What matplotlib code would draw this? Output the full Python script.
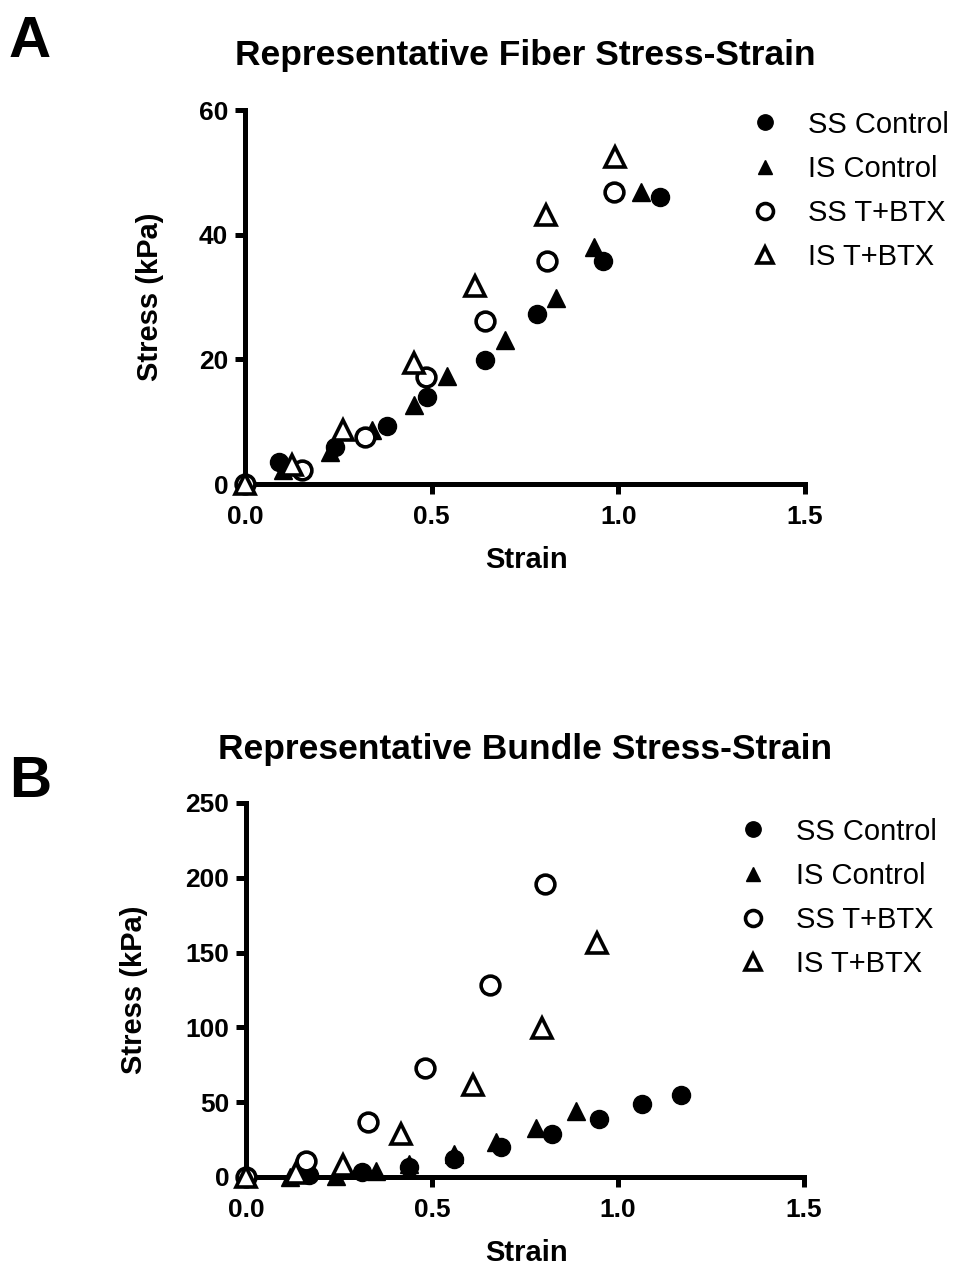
import matplotlib
matplotlib.use("Agg")
import matplotlib.pyplot as plt

plt.rcParams['font.family'] = ['Liberation Sans', 'DejaVu Sans']

# ---------------- panel A: fiber ----------------
fib_ss_ctrl_x = [0.0, 0.090, 0.242, 0.381, 0.487, 0.644, 0.782, 0.958, 1.112]
fib_ss_ctrl_y = [0.0, 3.6, 6.0, 9.3, 13.9, 19.9, 27.2, 35.7, 46.0]
fib_is_ctrl_x = [0.0, 0.103, 0.229, 0.341, 0.453, 0.540, 0.697, 0.834, 0.935, 1.060]
fib_is_ctrl_y = [0.0, 2.3, 5.2, 8.7, 12.7, 17.4, 23.1, 29.8, 38.0, 46.9]
fib_ss_btx_x = [0.0, 0.152, 0.321, 0.484, 0.644, 0.810, 0.988]
fib_ss_btx_y = [0.0, 2.3, 7.6, 17.1, 26.1, 35.8, 46.9]
fib_is_btx_x = [0.0, 0.126, 0.262, 0.453, 0.617, 0.805, 0.991]
fib_is_btx_y = [0.0, 3.1, 8.7, 19.4, 31.7, 43.2, 52.5]

# ---------------- panel B: bundle ----------------
bun_ss_ctrl_x = [0.0, 0.170, 0.312, 0.439, 0.558, 0.686, 0.823, 0.949, 1.065, 1.170]
bun_ss_ctrl_y = [0.0, 1.1, 3.3, 6.7, 12.3, 20.1, 29.0, 39.1, 48.7, 54.7]
bun_is_ctrl_x = [0.0, 0.117, 0.242, 0.350, 0.439, 0.558, 0.673, 0.780, 0.888]
bun_is_ctrl_y = [0.0, 0.0, 0.5, 4.0, 9.0, 15.6, 23.4, 33.0, 44.2]
bun_ss_btx_x = [0.0, 0.160, 0.327, 0.482, 0.655, 0.805]
bun_ss_btx_y = [0.0, 10.7, 36.8, 73.0, 128.3, 195.8]
bun_is_btx_x = [0.0, 0.135, 0.262, 0.417, 0.610, 0.796, 0.943]
bun_is_btx_y = [0.0, 3.0, 7.8, 29.0, 61.4, 99.3, 156.7]

labels = ["SS Control", "IS Control", "SS T+BTX", "IS T+BTX"]
xticks = [0.0, 0.5, 1.0, 1.5]
xticklabels = ["0.0", "0.5", "1.0", "1.5"]

W, H = 959, 1268
fig = plt.figure(figsize=(W / 100, H / 100), dpi=100)


def style_axes(ax, ymax, ystep):
    for s in ["top", "right"]:
        ax.spines[s].set_visible(False)
    for s in ["left", "bottom"]:
        ax.spines[s].set_linewidth(3.6)
    ax.set_xlim(0, 1.5)
    ax.set_ylim(0, ymax)
    ax.set_xticks(xticks)
    ax.set_xticklabels(xticklabels)
    ax.set_yticks(range(0, ymax + 1, ystep))
    ax.tick_params(direction="out", length=7, width=3.6, labelsize=19, pad=5)
    ax.tick_params(axis="x", pad=8)
    for lab in ax.get_xticklabels() + ax.get_yticklabels():
        lab.set_fontweight("bold")


def draw(ax, data):
    styles = [
        dict(marker="o", ms=13, mfc="black", mec="black", mew=1),
        dict(marker="^", ms=12.5, mfc="black", mec="black", mew=1),
        dict(marker="o", ms=13.5, mfc="white", mec="black", mew=2.6),
        dict(marker="^", ms=14, mfc="white", mec="black", mew=2.6),
    ]
    for (x, y), lab, st in zip(data, labels, styles):
        ax.plot(x, y, linestyle="none", label=lab, clip_on=False, zorder=3, **st)


def add_legend(ax, x0, y0):
    ax.legend(loc="upper left", bbox_to_anchor=(x0 / W, 1 - y0 / H),
              bbox_transform=fig.transFigure, frameon=False, fontsize=21,
              markerscale=0.85, handletextpad=0.67, labelspacing=0.55,
              handlelength=1.6, borderaxespad=0)


# panel A
axA = fig.add_axes([245 / W, 1 - 484 / H, 560 / W, 374 / H])
draw(axA, [(fib_ss_ctrl_x, fib_ss_ctrl_y), (fib_is_ctrl_x, fib_is_ctrl_y),
           (fib_ss_btx_x, fib_ss_btx_y), (fib_is_btx_x, fib_is_btx_y)])
style_axes(axA, 60, 20)
axA.set_xlabel("Strain", fontsize=21, fontweight="bold", va="center")
axA.set_ylabel("Stress (kPa)", fontsize=21, fontweight="bold", va="center")
axA.xaxis.set_label_coords(0.503, -0.203)
axA.yaxis.set_label_coords(-0.17, 0.5)
add_legend(axA, 730, 99)

# panel B
axB = fig.add_axes([246 / W, 1 - 1177 / H, 558 / W, 374 / H])
draw(axB, [(bun_ss_ctrl_x, bun_ss_ctrl_y), (bun_is_ctrl_x, bun_is_ctrl_y),
           (bun_ss_btx_x, bun_ss_btx_y), (bun_is_btx_x, bun_is_btx_y)])
style_axes(axB, 250, 50)
axB.set_xlabel("Strain", fontsize=21, fontweight="bold", va="center")
axB.set_ylabel("Stress (kPa)", fontsize=21, fontweight="bold", va="center")
axB.xaxis.set_label_coords(0.503, -0.203)
axB.yaxis.set_label_coords(-0.2, 0.5)
add_legend(axB, 718, 806)

# titles and panel letters
fig.text(525 / W, 1 - 56 / H, "Representative Fiber Stress-Strain",
         ha="center", va="center", fontsize=25.5, fontweight="bold")
fig.text(525 / W, 1 - 749 / H, "Representative Bundle Stress-Strain",
         ha="center", va="center", fontsize=25.5, fontweight="bold")
fig.text(30 / W, 1 - 42 / H, "A", ha="center", va="center", fontsize=42, fontweight="bold")
fig.text(30 / W, 1 - 782 / H, "B", ha="center", va="center", fontsize=42, fontweight="bold")

fig.savefig("out.png", dpi=100)
